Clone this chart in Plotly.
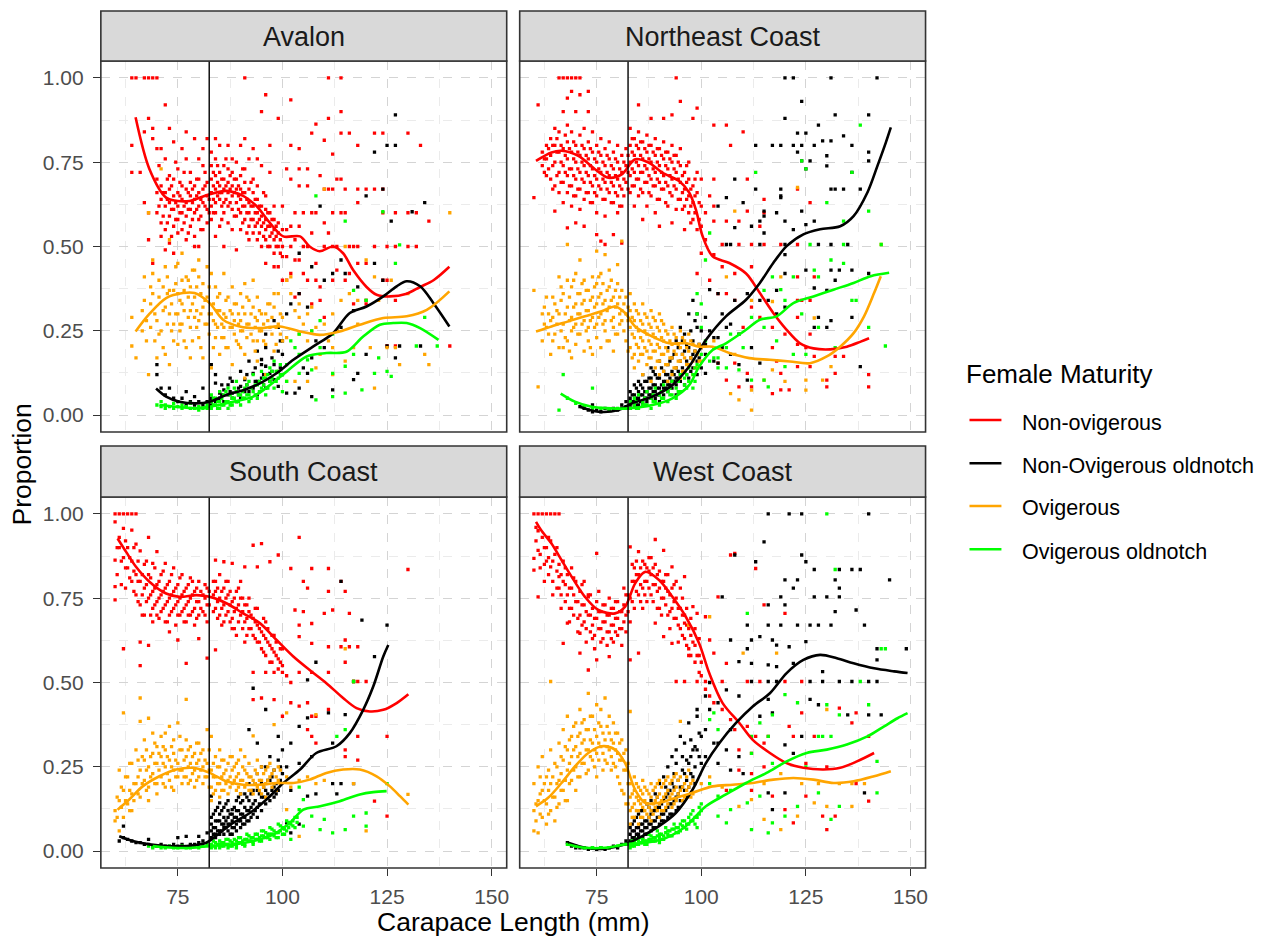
import plotly.graph_objects as go

W, H = 1281, 937
FONT = "Liberation Sans, Arial, sans-serif"

PANELS = ["Avalon", "Northeast Coast", "South Coast", "West Coast"]
SERIES = ["Non-ovigerous", "Non-Ovigerous oldnotch", "Ovigerous", "Ovigerous oldnotch"]
COLORS = ["#FF0000", "#000000", "#FFA500", "#00FF00"]
X_TICKS = [75, 100, 125, 150]
X_MINOR = [62.5, 87.5, 112.5, 137.5]
Y_TICKS = [0, 0.25, 0.5, 0.75, 1.0]
Y_TICK_LABELS = ["0.00", "0.25", "0.50", "0.75", "1.00"]
Y_MINOR = [0.125, 0.375, 0.625, 0.875]
LEGAL_SIZE = 82.5
X_LABEL = "Carapace Length (mm)"
Y_LABEL = "Proportion"
LEGEND_TITLE = "Female Maturity"

# ---------------- observed proportions (x: carapace length mm -> proportions) -------------
AV_RED = {64: [1.0, .80, .72], 65: [1.0], 66: [.72], 67: [1.0, .84, .63], 68: [1.0, .88, .60, .52],
          69: [1.0, .85, .82, .45], 70: [1.0, .66, .60, .70, .79], 71: [.64, .57, .53, .68, .79],
          72: [.92, .62, .66, .55, .76, .49], 73: [.85, .63, .59, .67, .51, .71],
          74: [.65, .61, .56, .70, .48, .81], 75: [.62, .66, .58, .73, .54], 76: [.64, .60, .68, .55, .79],
          77: [.84, .63, .67, .59, .52, .76], 78: [.61, .65, .69, .56, .72], 79: [.82, .64, .60, .68, .53, .50],
          80: [.76, .66, .62, .58, .70, .50], 81: [.79, .63, .67, .55, .74], 82: [.82, .65, .61, .69, .57],
          83: [.66, .62, .70, .74, .58, .78], 84: [.82, .67, .63, .71, .60, .76, .53],
          85: [.68, .64, .72, .66, .56, .80], 86: [.74, .67, .63, .70, .60, .50],
          87: [.80, .66, .69, .62, .73, .57], 88: [.76, .65, .68, .61, .72, .55],
          89: [.67, .63, .70, .59, .75, .49], 90: [.64, .67, .60, .71, .55, .80],
          91: [1.0, .82, .66, .62, .69, .58, .73], 92: [.63, .60, .67, .56, .52, .76],
          93: [.62, .58, .66, .54, .70, .79], 94: [.60, .64, .57, .52, .68, .76],
          95: [.90, .59, .56, .62, .50, .74], 96: [.95, .58, .55, .61, .52, .65, .45],
          97: [.56, .60, .53, .50, .72, .80], 98: [.55, .58, .52, .62, .48, .44],
          99: [.54, .57, .50, .88, .44], 100: [.50, .55, .40, .47, .62], 101: [.55, .47, .40, .73],
          102: [.935, .80, .70, .50, .42, .56], 103: [.46, .60, .35, .52], 104: [.79, .73, .68, .56, .46, .36],
          105: [.60, .50, .42], 106: [.73, .68, .50, .40], 107: [.836, .60, .54, .33], 108: [.863, .60, .45, .40],
          109: [.71, .38, .34], 110: [.815, .67, .57, .50, .29], 111: [1.0, .88, .67, .54],
          112: [.774, .67, .60, .50, .40], 113: [.70, .50, .43], 114: [1.0, .90, .836, .70, .60],
          115: [.67, .60, .40], 116: [.836, .50, .42], 117: [.50, .33], 118: [.80, .67, .63, .50, .45],
          120: [.67, .45, .33], 122: [.836, .67, .50], 124: [.836, .67, .60, .40], 125: [.50, .40, .205],
          127: [.60, .50, .34, .205], 130: [.836, .60, .50], 132: [.60, .50], 133: [.80], 135: [.575],
          140: [.205]}
AV_RED_H = {70.5: [.62, .74], 71.5: [.66, .59], 72.5: [.64, .70, .57], 73.5: [.61, .68, .53],
            74.5: [.63, .58, .75], 75.5: [.65, .60, .69], 76.5: [.62, .57, .72], 77.5: [.66, .61, .54],
            78.5: [.63, .67, .58], 79.5: [.61, .65, .70], 80.5: [.64, .59, .55], 81.5: [.62, .68, .72],
            82.5: [.64, .60], 83.5: [.68, .64, .72, .60], 84.5: [.65, .69, .74], 85.5: [.66, .62, .70, .58],
            86.5: [.68, .64, .76], 87.5: [.67, .63, .71], 88.5: [.66, .70, .59], 89.5: [.65, .61, .68],
            90.5: [.62, .66, .57, .73], 91.5: [.64, .60, .54], 92.5: [.62, .58, .69], 93.5: [.60, .56, .64],
            94.5: [.58, .62, .54], 95.5: [.57, .53, .66], 96.5: [.56, .60, .50], 97.5: [.54, .58],
            98.5: [.53, .56, .50], 99.5: [.52, .48]}
AV_BLK = {70: [.12, .15], 71: [.08], 72: [.06], 73: [.08], 74: [.05], 75: [.04], 76: [.05], 77: [.07, .03],
          78: [.04], 79: [.055, .03], 80: [.04], 81: [.08, .03], 82: [.04], 83: [.15, .05, .03],
          84: [.12, .095, .04], 85: [.065, .05], 86: [.075, .04], 87: [.06, .09], 88: [.065, .05, .1],
          89: [.07, .04], 90: [.085, .05, .13], 91: [.105, .07], 92: [.07, .16], 93: [.124, .08],
          94: [.06, .10, .19], 95: [.15, .165, .11], 96: [.145, .08, .20, .24], 97: [.124, .10],
          98: [.105, .15, .28], 99: [.085, .19, .26], 100: [.12, .18, .22], 101: [.065, .30], 102: [.33],
          103: [.065], 104: [.36, .48, .08], 105: [.14], 106: [.32, .124], 107: [.44, .17, .055], 108: [.22],
          109: [.62], 110: [.40, .20], 112: [.42, .075], 113: [.25], 114: [.46, .26], 115: [.42],
          117: [.31, .105], 118: [.38, .124], 120: [.65, .18, .34], 122: [.78, .45], 124: [.67, .40],
          125: [.80, .205], 126: [.575], 127: [.80, .89, .17], 128: [.205], 131: [.603], 133: [.205], 134: [.63]}
AV_BLK_H = {85.5: [.06, .09], 87.5: [.07, .11], 89.5: [.08, .06], 91.5: [.09, .12], 93.5: [.10, .14],
            95.5: [.12, .09], 97.5: [.13, .17], 99.5: [.14, .22]}
AV_ORA = {64: [.205, .29], 65: [.17], 67: [.34, .41], 68: [.60, .12], 69: [.46, .42, .36], 70: [.17, .28],
          71: [.73, .25], 72: [.18, .44, .32], 73: [.15, .30, .37, .52], 74: [.37, .27, .22],
          75: [.21, .36, .45, .30], 76: [.48, .27, .33, .40], 77: [.41, .20], 78: [.17, .38, .26, .31],
          79: [.43, .29, .35], 80: [.28, .41, .46, .23], 81: [.32, .39, .17], 82: [.27, .35, .44],
          83: [.14, .42, .30], 84: [.27, .23, .38], 85: [.36, .18, .31], 86: [.42, .30, .23, .26],
          87: [.35, .20], 88: [.38, .26, .15, .30], 89: [.33, .22], 90: [.36, .28, .20, .25],
          91: [.39, .30, .18, .11], 92: [.27, .34], 93: [.40, .32, .22], 94: [.28, .22, .16, .35],
          95: [.25, .30], 96: [.30, .21, .12], 97: [.26, .33], 98: [.32, .19, .36], 99: [.36, .13, .27],
          100: [.29, .22], 101: [.40, .23, .10], 102: [.41, .36], 103: [.31, .10], 104: [.33, .24, .29],
          105: [.27], 106: [.30, .10, .22], 107: [.32, .25], 108: [.26, .14], 109: [.18], 110: [.27, .67],
          111: [.22], 112: [.30, .20, .12], 113: [.25], 114: [.34], 115: [.16, .50], 116: [.36], 117: [.20],
          118: [.34, .27], 120: [.34, .46], 121: [.20], 122: [.41, .08], 123: [.34], 125: [.20], 126: [.40],
          127: [.20], 128: [.15], 130: [.36], 134: [.18], 135: [.15], 140: [.60]}
AV_ORA_H = {66.5: [.25, .31], 67.5: [.22, .28], 68.5: [.33, .26, .38], 69.5: [.30, .22], 70.5: [.35, .40, .24],
            71.5: [.31, .38, .20], 72.5: [.36, .27, .41], 73.5: [.33, .25], 74.5: [.39, .30, .44],
            75.5: [.34, .27, .25], 76.5: [.37, .31, .22], 77.5: [.35, .29, .40], 78.5: [.33, .43, .22],
            79.5: [.31, .38, .26], 80.5: [.36, .30, .20], 81.5: [.34, .27], 82.5: [.30, .24, .38],
            83.5: [.28, .33, .20], 84.5: [.31, .26, .35], 85.5: [.27, .23], 86.5: [.29, .34, .20],
            87.5: [.26, .31], 88.5: [.24, .28, .33], 89.5: [.27, .30, .21], 90.5: [.25, .32],
            91.5: [.27, .23, .35], 92.5: [.30, .24], 93.5: [.26, .29, .19], 94.5: [.31, .25], 95.5: [.27, .22],
            96.5: [.28, .33], 97.5: [.24, .29], 98.5: [.26, .21], 99.5: [.30, .24]}
AV_GRN = {70: [.03], 71: [.025, .04], 72: [.03, .02], 73: [.025], 74: [.02, .035], 75: [.025], 76: [.02, .03],
          77: [.025], 78: [.02, .035], 79: [.02], 80: [.025, .015], 81: [.02], 82: [.03, .02],
          83: [.02, .04, .06], 84: [.03, .05], 85: [.02, .04, .07], 86: [.03, .06], 87: [.04, .02, .08],
          88: [.05, .03], 89: [.04, .07, .1], 90: [.03, .06], 91: [.05, .08], 92: [.04, .1, .06],
          93: [.07, .12], 94: [.05, .09], 95: [.08, .13], 96: [.06, .11], 97: [.1, .14], 98: [.08, .16],
          99: [.11, .13], 100: [.12, .07], 101: [.1, .15], 102: [.22], 103: [.2], 104: [.24, .18, .124],
          106: [.164], 107: [.25, .134], 108: [.045, .65], 109: [.28, .20], 112: [.24, .124, .055],
          115: [.575, .145, .065], 117: [.18, .37], 119: [.075], 120: [.34], 122: [.124], 123: [.17],
          124: [.603], 125: [.13], 126: [.115], 127: [.45], 128: [.505], 132: [.205], 134: [.29], 137: [.205]}
AV_GRN_H = {83.5: [.03, .05], 84.5: [.04, .02], 85.5: [.05, .03], 86.5: [.04, .07], 87.5: [.06, .03],
            88.5: [.05, .08], 89.5: [.06, .04], 90.5: [.07, .05], 91.5: [.06, .09], 92.5: [.08, .05],
            93.5: [.09, .06], 94.5: [.10, .07], 95.5: [.09, .11], 96.5: [.12, .08], 97.5: [.11, .13],
            98.5: [.13, .10], 99.5: [.12, .15]}

NE_RED = {60: [.645], 61: [.92], 62: [.78, .74], 63: [.71, .80, .76], 64: [.82, .77, .70],
          65: [.605, .80, .75, .68, .85], 66: [1.0, .78, .72, .84, .66], 67: [1.0, .90, .79, .74, .69, .63],
          68: [1.0, .94, .555, .81, .76, .71, .66, .86], 69: [1.0, .96, .78, .73, .68, .84, .62],
          70: [1.0, .90, .57, .80, .75, .70, .65], 71: [1.0, .95, .77, .72, .83, .67, .61],
          72: [.56, .79, .74, .69, .85, .64], 73: [.96, .90, .76, .71, .81, .66], 74: [.78, .73, .68, .84, .63],
          75: [.535, .75, .70, .80, .65, .60], 76: [.516, .77, .72, .67, .82], 77: [.506, .74, .69, .79, .64, .59],
          78: [.76, .71, .66, .81], 79: [.535, .73, .68, .78, .63], 80: [.75, .70, .65, .80, .60],
          81: [.51, .72, .67, .77, .62], 82: [.74, .69, .79], 83: [.80, .75, .71, .85, .66],
          84: [.82, .77, .72, .68, .62], 85: [.92, .79, .74, .70, .84, .65], 86: [.81, .76, .72, .66, .58],
          87: [.78, .73, .69, .83, .62], 88: [.88, .80, .75, .70, .65], 89: [.77, .72, .68, .82, .60],
          90: [.79, .74, .69, .64, .56], 91: [.88, .76, .71, .67, .81], 92: [.78, .73, .68, .62],
          93: [.89, .75, .70, .65, .80, .57], 94: [1.0, .77, .72, .67, .61], 95: [.93, .74, .69, .64, .79],
          96: [.72, .67, .62, .55], 97: [.70, .65, .60, .75], 98: [.88, .68, .63, .58],
          99: [.91, .66, .72, .55, .42], 100: [.70, .62, .48, .56], 101: [.52, .60], 102: [.65, .40],
          103: [.86, .70, .62, .575, .476], 104: [.36, .154], 105: [.506, .44], 106: [.86, .575, .36, .104],
          107: [.80], 108: [.42, .34, .154], 109: [.575, .506, .084], 110: [.84, .26], 111: [.70, .605, .124],
          112: [.506, .44, .32, .084], 114: [.56, .29], 115: [.64, .60, .506], 117: [.26, .20, .064],
          118: [.16], 119: [.506, .124, .075], 120: [.24], 121: [.075], 123: [.506, .67, .29, .144, .21, .41, .34],
          124: [.34], 125: [.20], 126: [.63, .24, .144, .34], 127: [.41, .174], 130: [.104, .084],
          132: [.174, .124], 134: [.174], 140: [.12, .084]}
NE_RED_H = {62.5: [.76, .72], 63.5: [.79, .73], 64.5: [.80, .74, .67], 65.5: [.78, .71, .82],
            66.5: [.80, .75, .69], 67.5: [.77, .72, .83], 68.5: [.79, .73, .68], 69.5: [.76, .71, .81, .65],
            70.5: [.78, .73, .67], 71.5: [.75, .70, .80], 72.5: [.77, .72, .66], 73.5: [.74, .69, .79, .63],
            74.5: [.76, .71, .66], 75.5: [.73, .68, .78], 76.5: [.75, .70, .64], 77.5: [.72, .67, .77],
            78.5: [.74, .69, .63], 79.5: [.71, .66, .76], 80.5: [.73, .68, .62], 81.5: [.70, .75, .65],
            82.5: [.77, .72, .67], 83.5: [.78, .73, .82, .68], 84.5: [.80, .75, .70], 85.5: [.77, .72, .81, .67],
            86.5: [.79, .74, .69], 87.5: [.76, .71, .80, .66], 88.5: [.78, .73, .68], 89.5: [.75, .70, .79, .64],
            90.5: [.77, .72, .67], 91.5: [.74, .69, .78, .63], 92.5: [.76, .71, .66], 93.5: [.73, .68, .77],
            94.5: [.75, .70, .64], 95.5: [.71, .66, .61], 96.5: [.69, .64, .74], 97.5: [.67, .62, .57],
            98.5: [.65, .60, .70], 99.5: [.63, .58]}
NE_BLK = {71: [.025], 72: [.02], 73: [.015], 74: [.01, .03], 75: [.015], 76: [.01], 77: [.02], 78: [.015],
          79: [.02], 80: [.015], 81: [.02, .03], 82: [.025, .04], 83: [.03, .05, .02, .07],
          84: [.04, .06, .03, .09], 85: [.05, .03, .07, .10], 86: [.04, .06, .08, .03, .12],
          87: [.05, .07, .04, .10], 88: [.06, .08, .05, .11, .14], 89: [.07, .05, .09, .12],
          90: [.06, .08, .11, .04, .16], 91: [.08, .10, .06, .13], 92: [.09, .07, .12, .15, .20],
          93: [.10, .08, .13, .17], 94: [.11, .09, .14, .06, .22], 95: [.12, .10, .26, .16],
          96: [.13, .19, .09, .24], 97: [.15, .11, .20, .30], 98: [.34, .22, .14, .18], 99: [.26, .16, .12, .30],
          100: [.20, .14, .25], 101: [.29, .21, .124, .18], 102: [.372, .25], 103: [.23, .16],
          104: [.36, .23, .154, .62], 105: [.30, .20], 106: [.506, .645, .26], 107: [.506, .27, .18],
          108: [.34, .70, .556], 109: [.24, .15], 110: [.63], 111: [.104, .36], 112: [.56, .20], 113: [.80, .67],
          114: [.575, .154, .506, .34], 115: [.605, .59, .54], 116: [.34], 117: [.80], 118: [.60, .30, .37],
          119: [.80, .67, .65, .645], 120: [.575, .506, .476, .42, .88, 1.0, .32], 122: [.55, 1.0, .80],
          123: [.836, .78], 124: [.605, .80, .754, .93], 125: [.836, .565, .73, .43], 126: [.754],
          127: [.575, .26, .377, .80], 128: [.86, .29, .506], 129: [.813], 130: [.769, .739, .26, .37],
          131: [.67, .813, .43, .506, 1.0, .28], 132: [.89, .67, .40], 133: [.43], 134: [.828, .67], 135: [.506],
          136: [.80, .72, .43, .29], 138: [.67, .144], 140: [.89, .78, .754, .42], 142: [1.0]}
NE_BLK_H = {83.5: [.04, .06], 84.5: [.05, .03, .08], 85.5: [.06, .04, .09], 86.5: [.05, .07, .10],
            87.5: [.06, .08, .11], 88.5: [.07, .09, .13], 89.5: [.08, .06, .11], 90.5: [.09, .07, .14],
            91.5: [.10, .08, .12], 92.5: [.11, .09, .16], 93.5: [.12, .10, .18], 94.5: [.13, .11, .20],
            95.5: [.14, .18, .22], 96.5: [.16, .12, .21], 97.5: [.17, .25, .13], 98.5: [.19, .28], 99.5: [.21, .17]}
NE_ORA = {60: [.37], 61: [.084], 62: [.30, .22], 63: [.26, .35], 64: [.18, .28], 65: [.33, .24],
          66: [.41, .20, .30], 67: [.20, .36, .27], 68: [.506, .22, .32, .40], 69: [.25, .38, .29, .17],
          70: [.33, .27, .42, .21], 71: [.46, .30, .36, .24], 72: [.28, .34, .40, .19], 73: [.31, .37, .26, .22],
          74: [.35, .29, .41, .18], 75: [.486, .33, .27, .39, .23], 76: [.30, .36, .42, .20],
          77: [.476, .34, .28, .25], 78: [.32, .38, .43, .22], 79: [.29, .35, .26, .19], 80: [.446, .33, .39, .24],
          81: [.516, .31, .37, .28], 82: [.30, .35, .22], 83: [.26, .31, .20, .36], 84: [.23, .28, .18, .33, .14],
          85: [.25, .20, .30, .16], 86: [.22, .27, .18, .12, .33], 87: [.24, .19, .29, .15],
          88: [.21, .26, .17, .10, .31], 89: [.23, .19, .28, .14], 90: [.20, .25, .16, .12, .30],
          91: [.22, .18, .27, .13], 92: [.19, .24, .15, .10], 93: [.21, .17, .26, .12], 94: [.18, .23, .14],
          95: [.20, .16, .25, .11], 96: [.17, .22, .13], 97: [.19, .15, .24], 98: [.16, .21, .12], 99: [.18, .14],
          100: [.20, .16], 103: [.22], 106: [.41], 107: [.064], 108: [.605, .18], 109: [.045],
          112: [.015, .074, .34], 115: [.104], 117: [.134, .337], 119: [.41], 120: [.10], 123: [.675],
          125: [.074, .104], 127: [.288], 129: [.104], 131: [.144], 143: [.506]}
NE_ORA_H = {62.5: [.27, .32], 63.5: [.24, .30], 64.5: [.29, .35, .22], 65.5: [.27, .31], 66.5: [.25, .34, .38],
            67.5: [.30, .23], 68.5: [.28, .35, .19], 69.5: [.32, .26, .40], 70.5: [.30, .24, .36],
            71.5: [.33, .27, .39], 72.5: [.31, .25, .37], 73.5: [.34, .28, .20], 74.5: [.32, .38, .26],
            75.5: [.35, .29, .41], 76.5: [.33, .27, .39], 77.5: [.31, .37, .22], 78.5: [.34, .28, .40],
            79.5: [.32, .37, .24], 80.5: [.30, .35, .27], 81.5: [.33, .25], 82.5: [.28, .32, .19],
            83.5: [.24, .29, .17], 84.5: [.26, .21, .31], 85.5: [.23, .28, .18], 86.5: [.25, .20, .30],
            87.5: [.22, .27, .17], 88.5: [.24, .19, .29], 89.5: [.21, .26, .16], 90.5: [.23, .18, .28],
            91.5: [.20, .25, .15], 92.5: [.22, .17], 93.5: [.19, .24, .14], 94.5: [.21, .16], 95.5: [.18, .23, .13],
            96.5: [.20, .15], 97.5: [.17, .22], 98.5: [.19, .14], 99.5: [.16, .21]}
NE_GRN = {66: [.015], 67: [.12], 68: [.05], 70: [.035], 72: [.025], 74: [.08, .02], 76: [.02], 78: [.015],
          80: [.02], 82: [.02], 83: [.02, .04], 84: [.03, .05], 85: [.02, .06], 86: [.04, .03], 87: [.03, .07],
          88: [.05, .02], 89: [.04, .08], 90: [.06, .03], 91: [.05, .09], 92: [.07, .04], 93: [.06, .1],
          94: [.08, .05], 95: [.07, .12], 96: [.09, .11], 97: [.1, .14], 98: [.12, .08], 99: [.36, .30, .15],
          100: [.26, .18, .33], 101: [.46, .22], 102: [.54, .16], 103: [.20, .17], 104: [.17, .14],
          106: [.20, .14], 107: [.24], 109: [.24, .134], 110: [.20], 112: [.29, .104], 113: [.72],
          115: [.26, .37, .104], 116: [.084], 117: [.41], 118: [.22], 119: [.372], 120: [.34, .144],
          122: [.41, .18], 124: [.754, .30], 125: [.73, .18], 126: [.506], 127: [.43], 128: [.41, .26],
          130: [.63], 131: [.46], 132: [.20], 134: [.575, .506, .45], 136: [.72, .34], 137: [.34], 138: [.86],
          140: [.605, .26], 143: [.506], 144: [.205]}
NE_GRN_H = {84.5: [.02, .04], 86.5: [.03, .05], 88.5: [.04, .06], 90.5: [.05, .07], 92.5: [.06, .08],
            94.5: [.07, .10], 96.5: [.08, .12], 98.5: [.10, .14]}

SC_RED = {60: [1.0, .976, .863, .784, .745], 61: [1.0, .93, .90], 62: [1.0, .957, .60, .87], 63: [1.0, .90, .84],
          64: [1.0, .952, .86, .80], 65: [1.0, .91, .82, .76], 66: [.89, .80, .62, .55, .73], 67: [.85, .78, .70],
          68: [.93, .61, .82, .75], 69: [.853, .77, .72, .68], 70: [.888, .79, .74, .70], 71: [.82, .76, .71],
          72: [.853, .78, .73, .68], 73: [.80, .75, .70, .65], 74: [.77, .72, .84], 75: [.626, .79, .74, .70],
          76: [.76, .71, .82], 77: [.557, .78, .73, .68], 78: [.75, .70, .81], 79: [.77, .72, .67],
          80: [.63, .74, .80, .70], 81: [.76, .71], 82: [.572, .78, .73, .68], 84: [.863, .597, .77, .72, .80],
          85: [.75, .70, .82], 86: [.858, .78, .73, .68], 87: [.76, .71, .80], 88: [.853, .74, .69, .66],
          89: [.77, .72, .64], 90: [.75, .70, .80], 91: [.843, .73, .68, .62], 92: [.71, .66, .75],
          93: [.907, .53, .449, .69, .64], 94: [.843, .67, .62, .72], 95: [.912, .454, .65, .60],
          96: [.53, .63, .68, .58], 97: [.858, .61, .56], 98: [.53, .449, .59, .64], 99: [.878, .57, .54],
          100: [.53, .40, .55, .60], 101: [.52], 102: [.838, .44, .50], 103: [.715], 104: [.93, .67, .636, .53, .43],
          105: [.80, .71], 106: [.78, .44, .36], 107: [.838, .675, .616, .53, .40, .34], 108: [.40, .32],
          110: [.705], 111: [.838, .77, .606, .53, .42], 112: [.715], 114: [.80, .606],
          115: [.77, .626, .56, .30, .28], 116: [.705, .606], 117: [.503], 118: [.606, .34, .27, .503],
          120: [.503], 122: [.148], 125: [.34, .104], 130: [.835]}
SC_RED_H = {60.5: [.90, .82], 61.5: [.86, .79], 62.5: [.84, .78, .92], 63.5: [.81, .87], 64.5: [.83, .77, .90],
            65.5: [.80, .86, .74], 66.5: [.82, .76, .70], 67.5: [.79, .74, .86], 68.5: [.81, .76, .70],
            69.5: [.78, .73, .84], 70.5: [.80, .75, .69], 71.5: [.77, .72, .83], 72.5: [.79, .74, .68],
            73.5: [.76, .71, .82], 74.5: [.78, .73, .67], 75.5: [.75, .70, .81], 76.5: [.77, .72, .68],
            77.5: [.74, .79, .70], 78.5: [.76, .71, .80], 79.5: [.74, .78, .69], 80.5: [.77, .72],
            81.5: [.75, .70, .79], 82.5: [.73, .77], 83.5: [.76, .71, .80], 84.5: [.74, .69, .78],
            85.5: [.72, .77, .67], 86.5: [.75, .70, .80], 87.5: [.73, .68, .77], 88.5: [.71, .75, .66],
            89.5: [.73, .68, .78], 90.5: [.71, .66, .75], 91.5: [.69, .73, .64], 92.5: [.70, .66],
            93.5: [.68, .63, .72], 94.5: [.66, .62], 95.5: [.64, .69, .59], 96.5: [.62, .66], 97.5: [.60, .64, .56],
            98.5: [.58, .62], 99.5: [.56, .60]}
SC_BLK = {61: [.03], 62: [.074, .04], 63: [.035], 64: [.03], 65: [.025], 66: [.025], 67: [.02], 68: [.035, .02],
          69: [.015], 70: [.015], 71: [.02], 72: [.015], 73: [.015], 74: [.02], 75: [.04, .015], 76: [.02],
          77: [.044], 78: [.02], 79: [.02], 80: [.044, .025], 81: [.03], 82: [.054],
          83: [.163, .10, .06, .04, .08], 84: [.05, .07, .12, .09, .04], 85: [.143, .06, .09, .05, .11],
          86: [.07, .10, .05, .13, .08], 87: [.10, .06, .08, .12, .15], 88: [.123, .07, .09, .11, .05],
          89: [.08, .12, .06, .10, .15], 90: [.143, .09, .11, .07, .17], 91: [.17, .10, .13, .08],
          92: [.36, .20, .12, .09, .15], 93: [.483, .11, .14, .18], 94: [.32, .23, .18, .13, .10],
          95: [.12, .16, .20, .25], 96: [.25, .14, .18, .42], 97: [.28, .15, .21], 98: [.19, .24, .16],
          99: [.34, .27, .18], 100: [.23, .30], 101: [.084, .25], 102: [.18, .32, .054], 104: [.37, .26, .08],
          106: [.395, .508, .163], 107: [.28], 108: [.56, .17], 111: [.41], 112: [.32, .20], 113: [.17],
          114: [.80, .20], 115: [.405], 117: [.20, .503], 119: [.685], 122: [.577], 125: [.67]}
SC_BLK_H = {83.5: [.07, .05, .11], 84.5: [.06, .09, .13], 85.5: [.08, .06, .12], 86.5: [.09, .07, .14],
            87.5: [.08, .11, .05], 88.5: [.10, .07, .13], 89.5: [.09, .12, .16], 90.5: [.11, .08, .15],
            91.5: [.12, .09, .16], 92.5: [.13, .10, .17], 93.5: [.15, .12, .20], 94.5: [.14, .17], 95.5: [.16, .19],
            96.5: [.17, .21], 97.5: [.18, .22], 98.5: [.20, .17], 99.5: [.21, .25]}
SC_ORA = {60: [.09, .12], 61: [.24, .06, .15], 62: [.41, .18, .10], 63: [.22, .14], 64: [.26, .17, .12],
          65: [.20, .30], 66: [.454, .385, .24, .16], 67: [.27, .21, .33], 68: [.394, .19, .25, .15],
          69: [.29, .23, .35], 70: [.26, .20, .31, .17], 71: [.28, .22, .34], 72: [.35, .25, .19, .30],
          73: [.37, .27, .21], 74: [.29, .24, .33, .18], 75: [.38, .26, .22], 76: [.30, .24, .20],
          77: [.45, .28, .22, .33], 78: [.26, .21, .31], 79: [.29, .24, .19], 80: [.27, .22, .32],
          81: [.30, .25, .20], 82: [.36, .26, .22], 83: [.34, .24, .19, .15], 84: [.28, .22, .18],
          85: [.25, .20, .16, .30], 86: [.23, .18, .27], 87: [.21, .26, .17], 88: [.28, .20, .24],
          89: [.22, .18, .26], 90: [.30, .21, .17], 91: [.24, .19, .28], 92: [.22, .18, .26], 93: [.342, .21, .17],
          94: [.23, .19, .27], 95: [.21, .25, .17], 96: [.24, .20, .16], 97: [.22, .26], 98: [.375, .20, .24],
          99: [.21, .25], 101: [.41, .22, .123], 102: [.19], 104: [.044, .21], 106: [.22], 108: [.20, .405],
          110: [.21], 115: [.60], 117: [.20, .503], 120: [.06], 130: [.168]}
SC_ORA_H = {60.5: [.10, .16], 61.5: [.13, .19], 62.5: [.15, .22], 63.5: [.18, .26, .12], 64.5: [.20, .15],
            65.5: [.22, .27, .17], 66.5: [.20, .28], 67.5: [.24, .18, .30], 68.5: [.22, .28], 69.5: [.26, .20, .32],
            70.5: [.24, .29], 71.5: [.26, .20, .31], 72.5: [.23, .28], 73.5: [.25, .31, .19], 74.5: [.27, .22],
            75.5: [.24, .30, .34], 76.5: [.27, .22], 77.5: [.25, .30, .20], 78.5: [.23, .28], 79.5: [.26, .21, .32],
            80.5: [.24, .29], 81.5: [.22, .27], 82.5: [.24, .30, .19], 83.5: [.22, .26, .17], 84.5: [.20, .25],
            85.5: [.22, .18, .27], 86.5: [.20, .24], 87.5: [.22, .19, .28], 88.5: [.21, .25], 89.5: [.19, .23, .27],
            90.5: [.21, .25], 91.5: [.20, .23], 92.5: [.22, .18], 93.5: [.20, .24], 94.5: [.21, .18],
            95.5: [.23, .19], 96.5: [.21, .25], 97.5: [.19, .23], 98.5: [.22, .18], 99.5: [.20, .24]}
SC_GRN = {68: [.015], 69: [.01], 70: [.015], 71: [.01], 72: [.01], 73: [.015], 74: [.01], 75: [.01], 76: [.015],
          77: [.01], 78: [.01], 79: [.015], 80: [.01], 81: [.015], 82: [.02], 83: [.01, .02], 84: [.015, .025, .01],
          85: [.02, .01, .03], 86: [.015, .025], 87: [.02, .01, .035], 88: [.025, .015], 89: [.02, .03, .01],
          90: [.025, .04], 91: [.02, .035, .015], 92: [.03, .045], 93: [.025, .04, .02], 94: [.035, .05],
          95: [.03, .045, .06], 96: [.04, .055], 97: [.035, .05, .07], 98: [.045, .06], 99: [.04, .055, .08],
          100: [.05, .07], 101: [.06, .09], 102: [.035, .08], 103: [.07, .10], 104: [.123, .19],
          105: [.074, .153], 107: [.104], 109: [.064], 110: [.094], 112: [.054], 113: [.34], 115: [.36, .064],
          117: [.104, .503], 120: [.113, .074], 125: [.20]}
SC_GRN_H = {83.5: [.015, .03], 84.5: [.02], 85.5: [.025, .015], 86.5: [.02, .035], 87.5: [.03, .015],
            88.5: [.02, .035], 89.5: [.025, .04], 90.5: [.03, .02], 91.5: [.035, .05], 92.5: [.03, .04],
            93.5: [.035, .05], 94.5: [.04, .03], 95.5: [.045, .06], 96.5: [.04, .05], 97.5: [.05, .065],
            98.5: [.055, .04], 99.5: [.06, .075], 100.5: [.065, .05], 101.5: [.07, .085], 102.5: [.075, .09],
            103.5: [.085, .10]}

WC_RED = {60: [1.0, .833, .868], 61: [1.0, .754, .892, .95], 62: [1.0, .93], 63: [1.0, .90, .86],
          64: [1.0, .843, .92], 65: [1.0, .88], 66: [1.0, .814, .85, .78], 67: [.616, .86, .80],
          68: [.676, .82, .76], 69: [.84, .78, .72], 70: [.80, .74], 71: [.587, .646, .77, .70],
          72: [.80, .73, .68], 73: [.754, .537, .76, .70], 74: [.72, .67, .63], 75: [.883, .567, .74, .69],
          76: [.71, .66, .62], 77: [.73, .68], 78: [.577, .70, .65, .75], 79: [.67, .62, .72], 80: [.69, .64, .74],
          81: [.66, .61, .71], 82: [.70, .65, .76], 83: [.567, .902, .75, .68], 84: [.80, .72, .84],
          85: [.888, .587, .82, .76], 86: [.86, .78, .72], 87: [.84, .80, .74], 88: [.87, .82, .76],
          89: [.924, .676, .85, .79], 90: [.83, .78, .72], 91: [.892, .636, .80, .75], 92: [.82, .77, .70],
          93: [.843, .616, .78, .72], 94: [.75, .69, .503, .80], 95: [.72, .66, .78],
          96: [.814, .676, .503, .70, .63], 97: [.66, .60, .58], 98: [.725, .62], 99: [.705, .503, .58],
          100: [.56, .52], 101: [.695, .503, .48], 102: [.626, .46], 103: [.587, .44], 104: [.754],
          105: [.503, .42], 106: [.557, .18], 107: [.39, .878], 108: [.883, .36], 109: [.30, .24],
          111: [.503, .37], 112: [.29, .23, .18], 113: [.838, .34], 114: [.503], 115: [.73, .32, .25], 116: [.34],
          117: [.163], 120: [.705, .503, .123], 121: [.37], 122: [.34, .084], 124: [.503, .41], 125: [.163, .26],
          127: [.34], 129: [.104], 130: [.064, .25], 132: [.104], 133: [.424], 136: [.38], 137: [.41, .20],
          140: [.34, .148]}
WC_RED_H = {60.5: [.92, .96], 61.5: [.88, .84], 62.5: [.90, .85, .80], 63.5: [.87, .82, .93], 64.5: [.86, .80, .76],
            65.5: [.83, .78, .90], 66.5: [.82, .76, .72], 67.5: [.79, .74, .84], 68.5: [.78, .72, .68],
            69.5: [.76, .70, .81], 70.5: [.74, .69, .65], 71.5: [.73, .67, .79], 72.5: [.71, .66, .62],
            73.5: [.70, .65, .76], 74.5: [.69, .64, .60], 75.5: [.71, .66, .77], 76.5: [.68, .63, .73],
            77.5: [.70, .65, .61], 78.5: [.67, .72, .63], 79.5: [.69, .65, .74], 80.5: [.71, .66],
            81.5: [.73, .68, .78], 82.5: [.76, .71], 83.5: [.80, .74, .85], 84.5: [.82, .77, .86],
            85.5: [.84, .79, .74], 86.5: [.85, .80, .76], 87.5: [.83, .78, .87], 88.5: [.84, .79, .74],
            89.5: [.82, .77, .72], 90.5: [.80, .75, .70], 91.5: [.78, .73, .82], 92.5: [.76, .71, .66],
            93.5: [.74, .69, .79], 94.5: [.72, .67, .62], 95.5: [.70, .64, .75], 96.5: [.67, .61, .72],
            97.5: [.64, .58, .69], 98.5: [.61, .56, .66], 99.5: [.58, .53, .63]}
WC_BLK = {68: [.025], 69: [.015], 70: [.01], 71: [.01], 72: [.01], 73: [.005], 74: [.01], 75: [.005], 76: [.01],
          77: [.005], 78: [.01], 79: [.015], 80: [.01], 81: [.02], 82: [.03, .02], 83: [.03, .05, .02, .07],
          84: [.04, .06, .03, .09], 85: [.05, .07, .04, .11], 86: [.06, .08, .04, .12], 87: [.07, .05, .09, .14],
          88: [.08, .06, .11, .15], 89: [.09, .07, .12, .17], 90: [.10, .08, .13, .20], 91: [.11, .09, .15, .22],
          92: [.13, .10, .17, .25], 93: [.28, .20, .14, .11], 94: [.26, .16, .12, .30], 95: [.19, .15, .34],
          96: [.32, .23, .18], 97: [.38, .19, .26], 98: [.22, .30], 99: [.42, .40, .30], 100: [.34, .26],
          101: [.46, .28, .36], 102: [.50, .42], 103: [.32], 104: [.44, .32, .26], 105: [.754], 106: [.478, .30],
          107: [.626, .36, .24], 108: [.878], 109: [.562, .46, .28], 110: [.23], 111: [.67, .60],
          112: [.557, .626, .503], 113: [.858], 114: [.636, .40], 115: [.917],
          116: [.73, .67, .552, .503, .45, .173, 1.0], 117: [.626, .41, .123], 118: [.611, .547, .503],
          119: [.754, .67], 120: [.73, .804, .315, .173], 121: [.606, 1.0], 122: [.557, .78, .29], 123: [.67, .804],
          124: [.878, 1.0, .34], 125: [.858, .621], 126: [.67, .503, .45], 127: [.835, .754], 128: [.67, .434],
          129: [.532, .503], 130: [.754], 131: [.67], 132: [.804, .71], 133: [.835, .78, .754, .503], 135: [.404],
          136: [.835, .503], 137: [.715], 138: [.835], 139: [.67, .173], 140: [1.0, .503, .404],
          142: [.60, .567, .503], 143: [.404], 145: [.804], 149: [.60]}
WC_BLK_H = {83.5: [.04, .06, .08], 84.5: [.05, .07, .10], 85.5: [.06, .08, .12], 86.5: [.07, .09, .05],
            87.5: [.08, .10, .13], 88.5: [.09, .07, .12], 89.5: [.10, .13, .16], 90.5: [.11, .09, .14],
            91.5: [.12, .16, .19], 92.5: [.14, .11, .18], 93.5: [.15, .19, .23], 94.5: [.17, .21, .13],
            95.5: [.19, .24, .28], 96.5: [.21, .16, .27], 97.5: [.23, .28, .33], 98.5: [.25, .20, .31], 99.5: [.28, .35]}
WC_ORA = {60: [.12, .20, .06], 61: [.054, .15, .25], 62: [.10, .18, .28], 63: [.14, .22, .08],
          64: [.503, .20, .12, .30], 65: [.16, .26, .09], 66: [.21, .32, .14], 67: [.18, .27, .36],
          68: [.24, .30, .15, .40], 69: [.28, .34, .21], 70: [.31, .25, .38, .18], 71: [.29, .35, .42, .22],
          72: [.33, .26, .39], 73: [.468, .30, .36, .24], 74: [.32, .40, .27], 75: [.434, .34, .29, .22],
          76: [.37, .31, .42], 77: [.454, .33, .27], 78: [.35, .30, .40], 79: [.32, .26, .38], 80: [.29, .35, .22],
          81: [.27, .33, .18], 82: [.24, .30, .14], 83: [.414, .20, .16, .12, .08], 84: [.18, .14, .10, .22],
          85: [.15, .12, .19, .08], 86: [.17, .13, .10, .21], 87: [.14, .18, .11], 88: [.16, .12, .20, .09],
          89: [.15, .19, .13], 90: [.17, .14, .21, .10], 91: [.16, .20, .12], 92: [.18, .14, .22],
          93: [.17, .21, .13], 94: [.19, .15, .23], 95: [.385, .18, .22], 96: [.20, .16], 97: [.67, .19, .24],
          98: [.21, .17], 100: [.20], 102: [.695, .22], 105: [.19], 109: [.133], 110: [.587], 112: [.153],
          115: [.20, .094], 118: [.587], 119: [.064, .23], 123: [.104], 124: [.20], 127: [.143], 128: [.20],
          130: [.42, .133], 133: [.20], 136: [.20, .133], 139: [.20]}
WC_ORA_H = {60.5: [.14, .09], 61.5: [.17, .11, .22], 62.5: [.15, .20], 63.5: [.18, .24, .11], 64.5: [.16, .22],
            65.5: [.20, .25, .13], 66.5: [.23, .18, .28], 67.5: [.21, .31, .15], 68.5: [.26, .20, .33],
            69.5: [.24, .30, .37], 70.5: [.28, .22, .34], 71.5: [.26, .32, .38], 72.5: [.30, .23, .36],
            73.5: [.28, .33, .40], 74.5: [.30, .25, .36], 75.5: [.32, .27, .38], 76.5: [.29, .35, .24],
            77.5: [.31, .37, .26], 78.5: [.28, .33, .24], 79.5: [.30, .35, .25], 80.5: [.27, .32, .20],
            81.5: [.24, .29, .17], 82.5: [.20, .26, .14], 83.5: [.17, .13, .10], 84.5: [.16, .12, .20],
            85.5: [.14, .10, .18], 86.5: [.15, .12, .19], 87.5: [.13, .17, .10], 88.5: [.14, .18, .11],
            89.5: [.16, .12, .20], 90.5: [.15, .19, .12], 91.5: [.17, .13, .21], 92.5: [.16, .20],
            93.5: [.18, .14, .22], 94.5: [.17, .21], 95.5: [.19, .15], 96.5: [.18, .22], 97.5: [.20, .16]}
WC_GRN = {68: [.02], 70: [.015], 72: [.01], 74: [.01], 76: [.01], 78: [.01], 80: [.015], 82: [.02],
          83: [.02, .01], 84: [.025, .015], 85: [.02, .03], 86: [.025, .035], 87: [.03, .02], 88: [.035, .045],
          89: [.03, .04], 90: [.04, .05, .025], 91: [.045, .035], 92: [.05, .06], 93: [.045, .065],
          94: [.055, .07], 95: [.06, .08], 96: [.07, .09], 97: [.08, .10], 98: [.09, .12], 99: [.10, .07],
          100: [.12, .14], 102: [.39, .20], 103: [.41], 104: [.36, .163, .104], 106: [.084], 107: [.123, .18],
          111: [.705, .143], 112: [.34, .29, .064], 114: [.38, .163], 116: [.34, .054], 117: [.404, .26, .084],
          120: [.464, .104], 123: [.44, .133], 125: [.25], 128: [.34, .173], 129: [.34], 130: [1.0, .434],
          131: [.34, .094], 132: [.835], 133: [.404, .133], 138: [.503], 140: [.434], 142: [.266, .173],
          143: [.60], 144: [.60]}
WC_GRN_H = {83.5: [.015, .03], 84.5: [.02, .035], 85.5: [.025, .04], 86.5: [.03, .02], 87.5: [.035, .05],
            88.5: [.04, .03], 89.5: [.045, .06], 90.5: [.05, .035], 91.5: [.055, .07], 92.5: [.06, .045],
            93.5: [.065, .08], 94.5: [.07, .055], 95.5: [.075, .09], 96.5: [.08, .065], 97.5: [.09, .11],
            98.5: [.10, .08], 99.5: [.11, .13]}

# ---------------- smoothed trends (x, proportion) -------------
AV_RED_FIT = [(64.9, .883), (68.2, .73), (72.2, .645), (75, .635), (77.8, .635), (82.6, .655), (86.6, .665),
              (90.6, .65), (93.8, .62), (97, .57), (100.2, .53), (104.2, .53), (106.5, .50), (108.9, .486),
              (112.1, .50), (114.5, .48), (116.9, .43), (120.1, .38), (122.5, .357), (125.7, .352),
              (129.7, .36), (132.9, .38), (136.1, .40), (139.9, .44)]
AV_BLK_FIT = [(69.8, .079), (72.2, .055), (75.4, .04), (79.4, .035), (82.6, .04), (86.6, .06), (90.6, .074),
              (94.6, .094), (98.6, .124), (102.6, .164), (107.3, .203), (112.1, .243), (116.1, .303),
              (120.1, .322), (124.1, .352), (127.3, .382), (129.7, .397), (132.9, .382), (136.1, .332),
              (139.9, .263)]
AV_ORA_FIT = [(64.9, .248), (68.2, .30), (72.2, .347), (76.2, .362), (79, .362), (82.6, .332), (85.8, .283),
              (89.8, .263), (94.6, .258), (99.4, .263), (104.2, .248), (108.9, .238), (113.7, .248),
              (118.5, .268), (124.1, .288), (129.7, .293), (134.5, .312), (139.9, .367)]
AV_GRN_FIT = [(70.6, .03), (74.6, .025), (79.4, .02), (82.6, .025), (88.2, .04), (93, .055), (97, .089),
              (101, .129), (105.8, .174), (110.5, .184), (115.3, .188), (119.3, .233), (123.3, .268),
              (126.5, .273), (129.7, .273), (132.9, .258), (137.3, .223)]

NE_RED_FIT = [(60.5, .754), (64.2, .779), (66.6, .784), (70.6, .769), (74.6, .729), (77.8, .704), (81, .714),
              (84.2, .759), (87.4, .749), (90.7, .719), (94.7, .694), (97.1, .66), (98.7, .61), (100.3, .531),
              (102.7, .471), (106.7, .451), (110.7, .42), (114, .362), (117.2, .303), (120.4, .253),
              (123.6, .213), (126.8, .198), (130.8, .195), (134.8, .203), (138.1, .218), (140.1, .228)]
NE_BLK_FIT = [(71, .025), (75.4, .01), (80.2, .015), (83.4, .035), (88.3, .055), (93.1, .089), (97.1, .144),
              (101.1, .223), (105.9, .293), (110.7, .342), (114, .392), (117.2, .451), (120.4, .501),
              (124.4, .536), (128.4, .551), (133.2, .56), (136.4, .59), (139.7, .66), (142.1, .739),
              (144.1, .808), (145.3, .853)]
NE_ORA_FIT = [(60.5, .248), (64.2, .263), (68.2, .278), (72.2, .293), (76.2, .308), (79.4, .322), (81.8, .303),
              (84.2, .263), (88.3, .233), (92.3, .213), (96.3, .213), (99.5, .203), (102.7, .203),
              (106.7, .184), (111.5, .169), (116.4, .164), (121.2, .159), (126, .154), (130, .174),
              (133.2, .203), (136.4, .243), (138.9, .293), (141.3, .362), (142.9, .412)]
NE_GRN_FIT = [(66.4, .064), (69.8, .04), (73.8, .025), (78.6, .02), (82.6, .02), (88.3, .03), (93.1, .05),
              (97.1, .089), (99.5, .144), (102.7, .193), (105.9, .213), (110.7, .253), (114, .283), (118, .293),
              (122, .332), (126.8, .352), (131.6, .372), (136.4, .392), (140.5, .412), (144.9, .422)]

SC_RED_FIT = [(60.6, .927), (62.6, .888), (65, .843), (68.2, .799), (72.2, .764), (75.4, .754), (79.4, .759),
              (82.6, .754), (86.6, .735), (90.6, .705), (94.6, .676), (98.6, .626), (102.6, .577),
              (106.5, .537), (110.5, .498), (114.5, .454), (117.7, .424), (120.9, .414), (124.1, .419),
              (127.3, .439), (130.1, .465)]
SC_BLK_FIT = [(61, .044), (64.2, .03), (68.2, .02), (72.2, .015), (77, .015), (81.8, .025), (85, .054),
              (88.2, .084), (92.2, .113), (96.2, .153), (100.2, .202), (104.2, .242), (108.1, .291),
              (112.9, .311), (116.1, .35), (119.3, .419), (121.7, .488), (124.1, .577), (125.3, .611)]
SC_ORA_FIT = [(60.6, .123), (63.4, .153), (66.6, .192), (70.6, .222), (74.6, .242), (78.6, .247), (82.6, .232),
              (86.6, .207), (90.6, .197), (94.6, .197), (98.6, .202), (102.6, .202), (106.5, .212),
              (110.5, .232), (114.5, .242), (118.5, .242), (122.5, .222), (125.7, .192), (128.1, .163),
              (130.1, .138)]
SC_GRN_FIT = [(69, .015), (73.8, .01), (78.6, .01), (82.6, .015), (88.2, .02), (93, .03), (97.8, .049),
              (101.8, .084), (105, .123), (109, .133), (113.7, .148), (118.5, .168), (121.7, .175), (124.9, .178)]

WC_RED_FIT = [(60.5, .976), (61.7, .952), (64.2, .912), (66.6, .863), (69, .814), (72.2, .754), (75.4, .715),
              (79.4, .705), (81.8, .725), (84.2, .794), (86.6, .828), (89.9, .804), (93.1, .754), (96.3, .695),
              (99.5, .616), (101.9, .528), (105.1, .439), (109.1, .38), (112.3, .33), (116.4, .291),
              (120.4, .261), (124.4, .247), (129.2, .242), (133.2, .247), (137.2, .266), (141.3, .291)]
WC_BLK_FIT = [(68.2, .025), (72.2, .01), (77, .007), (81.8, .02), (85.8, .044), (89.9, .074), (93.9, .113),
              (97.9, .182), (101.1, .261), (104.3, .32), (108.3, .38), (112.3, .429), (116.4, .468),
              (120.4, .528), (124.4, .567), (128.4, .582), (132.4, .572), (136.4, .557), (141.3, .542),
              (146.1, .533), (149.3, .528)]
WC_ORA_FIT = [(60.5, .133), (63.4, .158), (66.6, .202), (69.8, .251), (73, .291), (76.2, .311), (79.4, .301),
              (81.8, .261), (84.2, .182), (86.6, .143), (89.9, .143), (93.9, .158), (97.9, .173),
              (102.7, .192), (107.5, .197), (112.3, .202), (117.2, .212), (122, .217), (126.8, .212),
              (131.6, .202), (136.4, .207), (141.3, .222), (145.3, .237)]
WC_GRN_FIT = [(68.2, .02), (72.2, .01), (77, .01), (81.8, .02), (86.6, .025), (91.5, .039), (96.3, .074),
              (101.1, .133), (105.9, .168), (110.7, .202), (115.6, .232), (120.4, .266), (125.2, .291),
              (130, .301), (134.8, .316), (139.7, .34), (143.7, .37), (146.9, .394), (149.3, .409)]

POINTS = [[(AV_RED, AV_RED_H), (AV_BLK, AV_BLK_H), (AV_ORA, AV_ORA_H), (AV_GRN, AV_GRN_H)],
          [(NE_RED, NE_RED_H), (NE_BLK, NE_BLK_H), (NE_ORA, NE_ORA_H), (NE_GRN, NE_GRN_H)],
          [(SC_RED, SC_RED_H), (SC_BLK, SC_BLK_H), (SC_ORA, SC_ORA_H), (SC_GRN, SC_GRN_H)],
          [(WC_RED, WC_RED_H), (WC_BLK, WC_BLK_H), (WC_ORA, WC_ORA_H), (WC_GRN, WC_GRN_H)]]
FITS = [[AV_RED_FIT, AV_BLK_FIT, AV_ORA_FIT, AV_GRN_FIT], [NE_RED_FIT, NE_BLK_FIT, NE_ORA_FIT, NE_GRN_FIT],
        [SC_RED_FIT, SC_BLK_FIT, SC_ORA_FIT, SC_GRN_FIT], [WC_RED_FIT, WC_BLK_FIT, WC_ORA_FIT, WC_GRN_FIT]]

# ---------------- layout geometry (pixels of the 1281x937 page) ----------------
XDOM = [(101 / W, 507.5 / W), (520.5 / W, 927 / W)]
YDOM = [(1 - 432 / H, 1 - 61 / H), (1 - 868 / H, 1 - 497 / H)]
STRIP_PX = [(11, 61), (446, 497)]
X_RANGE = [56.6, 153.6]
Y_RANGE = [-0.05, 1.05]
MAJOR_GRID = "#D4D4D4"
MINOR_GRID = "#EBEBEB"
BORDER = "#333333"


def py(p):
    return 1 - p / H


fig = go.Figure()

for i, name in enumerate(PANELS):
    sfx = "" if i == 0 else str(i + 1)
    for s, col in enumerate(COLORS):
        xs, ys = [], []
        for d in POINTS[i][s]:
            for x, vals in d.items():
                for v in vals:
                    xs.append(x)
                    ys.append(v)
        fig.add_trace(go.Scatter(x=xs, y=ys, mode="markers", xaxis="x" + sfx, yaxis="y" + sfx,
                                 marker=dict(symbol="square", size=3.3, color=col, line=dict(width=0)),
                                 showlegend=False, hoverinfo="skip"))
    for s, col in enumerate(COLORS):
        f = FITS[i][s]
        fig.add_trace(go.Scatter(x=[p[0] for p in f], y=[p[1] for p in f], mode="lines",
                                 xaxis="x" + sfx, yaxis="y" + sfx,
                                 line=dict(color=col, width=2.6, shape="spline", smoothing=0.9),
                                 showlegend=False, hoverinfo="skip"))

layout = dict(width=W, height=H, margin=dict(l=0, r=0, t=0, b=0), paper_bgcolor="white",
              plot_bgcolor="white", showlegend=False, font=dict(family=FONT))
shapes = []
annotations = []
for i, name in enumerate(PANELS):
    col, row = i % 2, i // 2
    sfx = "" if i == 0 else str(i + 1)
    layout["xaxis" + sfx] = dict(
        domain=list(XDOM[col]), range=X_RANGE, anchor="y" + sfx, tickmode="array", tickvals=X_TICKS,
        ticktext=[str(v) for v in X_TICKS], showgrid=True, gridcolor=MAJOR_GRID, griddash="dash", gridwidth=1.1,
        zeroline=False, showline=False, ticks="outside" if row == 1 else "", ticklen=7, tickwidth=1.4,
        tickcolor=BORDER, showticklabels=(row == 1), ticklabelstandoff=3,
        tickfont=dict(size=21, color="#4D4D4D", family=FONT),
        minor=dict(tickmode="array", tickvals=X_MINOR, showgrid=True, gridcolor=MINOR_GRID, gridwidth=1.1,
                   ticks=""))
    layout["yaxis" + sfx] = dict(
        domain=list(YDOM[row]), range=Y_RANGE, anchor="x" + sfx, tickmode="array", tickvals=Y_TICKS,
        ticktext=Y_TICK_LABELS, showgrid=True, gridcolor=MAJOR_GRID, griddash="dash", gridwidth=1.1,
        zeroline=False, showline=False, ticks="outside" if col == 0 else "", ticklen=7, tickwidth=1.4,
        tickcolor=BORDER, showticklabels=(col == 0), ticklabelstandoff=5,
        tickfont=dict(size=21, color="#4D4D4D", family=FONT),
        minor=dict(tickmode="array", tickvals=Y_MINOR, showgrid=True, gridcolor=MINOR_GRID, gridwidth=1.1,
                   ticks=""))
    shapes.append(dict(type="line", xref="x" + sfx, yref="y" + sfx + " domain", x0=LEGAL_SIZE, x1=LEGAL_SIZE,
                       y0=0, y1=1, line=dict(color="black", width=1.4), layer="above"))
    shapes.append(dict(type="rect", xref="paper", yref="paper", x0=XDOM[col][0], x1=XDOM[col][1],
                       y0=YDOM[row][0], y1=YDOM[row][1], line=dict(color=BORDER, width=1.6),
                       fillcolor="rgba(0,0,0,0)", layer="above"))
    t, b = STRIP_PX[row]
    shapes.append(dict(type="rect", xref="paper", yref="paper", x0=XDOM[col][0], x1=XDOM[col][1],
                       y0=py(b), y1=py(t), line=dict(color=BORDER, width=1.6), fillcolor="#D9D9D9",
                       layer="above"))
    annotations.append(dict(text=name, xref="paper", yref="paper", x=(XDOM[col][0] + XDOM[col][1]) / 2,
                            y=py((t + b) / 2 + 1), xanchor="center", yanchor="middle", showarrow=False,
                            font=dict(size=27, color="#1A1A1A", family=FONT)))

annotations.append(dict(text=X_LABEL, xref="paper", yref="paper", x=514 / W, y=py(922), xanchor="center",
                        yanchor="middle", showarrow=False, font=dict(size=26.5, color="black", family=FONT)))
annotations.append(dict(text=Y_LABEL, xref="paper", yref="paper", x=23 / W, y=py(464.5), xanchor="center",
                        yanchor="middle", textangle=-90, showarrow=False,
                        font=dict(size=26.5, color="black", family=FONT)))

annotations.append(dict(text=LEGEND_TITLE, xref="paper", yref="paper", x=966 / W, y=py(374), xanchor="left",
                        yanchor="middle", showarrow=False, font=dict(size=26, color="black", family=FONT)))
KEY_Y = [420, 463.3, 506, 549.3]
for s, (lab, colr) in enumerate(zip(SERIES, COLORS)):
    shapes.append(dict(type="line", xref="paper", yref="paper", x0=971 / W, x1=1003 / W, y0=py(KEY_Y[s]),
                       y1=py(KEY_Y[s]), line=dict(color=colr, width=2.6)))
    annotations.append(dict(text=lab, xref="paper", yref="paper", x=1022 / W, y=py(KEY_Y[s] + 2.5),
                            xanchor="left", yanchor="middle", showarrow=False,
                            font=dict(size=21.5, color="black", family=FONT)))

layout["shapes"] = shapes
layout["annotations"] = annotations
fig.update_layout(**layout)
fig.write_html("out.html")
